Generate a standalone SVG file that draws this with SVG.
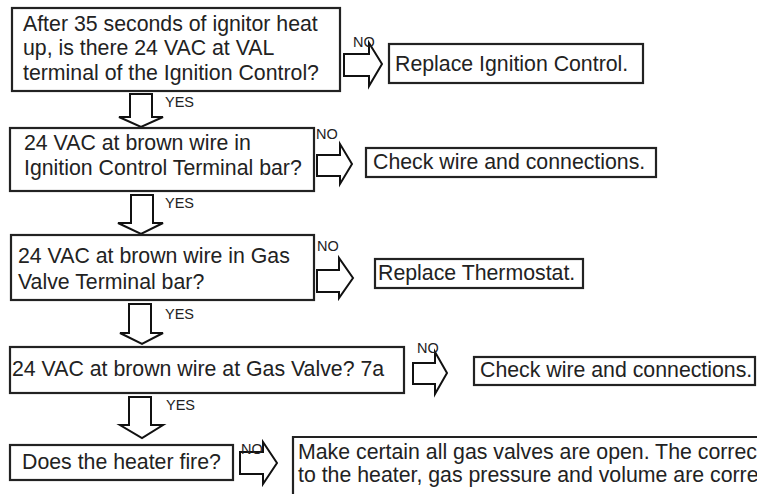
<svg xmlns="http://www.w3.org/2000/svg" width="757" height="494" viewBox="0 0 757 494">
<style>
.box{fill:#fff;stroke:#222;stroke-width:2.2}
.t{font-family:"Liberation Sans",Arial,sans-serif;font-size:21.3px;fill:#222}
.lbl{font-family:"Liberation Sans",Arial,sans-serif;font-size:14.5px;fill:#222}
.arr{fill:#fff;stroke:#111;stroke-width:2;stroke-linejoin:miter}
.ln{fill:none;stroke:#222;stroke-width:2.2}
</style>
<rect width="757" height="494" fill="#fff"/>
<g id="connectors">
  <!-- down arrows (YES) -->
  <path class="arr" d="M130,94 L152,94 L152,117 L163,117 L141,127 L119,117 L130,117 Z"/>
  <path class="arr" d="M131,195 L153,195 L153,223 L163,223 L141,234 L118,223 L131,223 Z"/>
  <path class="arr" d="M129,304 L151,304 L151,333 L163,333 L142,344 L120,333 L129,333 Z"/>
  <path class="arr" d="M129,397 L151,397 L151,425 L163,425 L142,438 L120,425 L129,425 Z"/>
  <!-- right arrows (NO) -->
  <path class="arr" d="M344,54 L369,54 L369,43 L382,64 L369,86 L369,76 L344,76 Z"/>
  <path class="arr" d="M317,155 L340,155 L340,144 L352,164 L340,184 L340,176 L317,176 Z"/>
  <path class="arr" d="M317,270 L339,270 L339,258 L353,278 L339,298 L339,292 L317,292 Z"/>
  <path class="arr" d="M413,363 L435,363 L435,352 L447,373 L435,394 L435,384 L413,384 Z"/>
  <path class="arr" d="M240,452 L263,452 L263,442 L277,463 L263,484 L263,474 L240,474 Z"/>
  <text class="lbl" x="165" y="107">YES</text>
  <text class="lbl" x="165" y="208">YES</text>
  <text class="lbl" x="165" y="319">YES</text>
  <text class="lbl" x="166" y="410">YES</text>
  <text class="lbl" x="353" y="47">NO</text>
  <text class="lbl" x="316" y="139">NO</text>
  <text class="lbl" x="317" y="251">NO</text>
  <text class="lbl" x="417" y="353">NO</text>
  <text class="lbl" x="241" y="454">NO</text>
</g>
<g id="q1">
  <rect class="box" x="12" y="8" width="328" height="83"/>
  <text class="t" x="23" y="31">After 35 seconds of ignitor heat</text>
  <text class="t" x="23" y="55">up, is there 24 VAC at VAL</text>
  <text class="t" x="23" y="80">terminal of the Ignition Control?</text>
</g>
<g id="a1">
  <rect class="box" x="389" y="44" width="254" height="39"/>
  <text class="t" x="395" y="71">Replace Ignition Control.</text>
</g>
<g id="q2">
  <rect class="box" x="10" y="128" width="304" height="63"/>
  <text class="t" x="24" y="150">24 VAC at brown wire in</text>
  <text class="t" x="24" y="175">Ignition Control Terminal bar?</text>
</g>
<g id="a2">
  <rect class="box" x="366" y="148" width="290" height="29"/>
  <text class="t" x="373" y="169">Check wire and connections.</text>
</g>
<g id="q3">
  <rect class="box" x="11" y="235" width="303" height="65"/>
  <text class="t" x="18" y="263">24 VAC at brown wire in Gas</text>
  <text class="t" x="18" y="289">Valve Terminal bar?</text>
</g>
<g id="a3">
  <rect class="box" x="375" y="259" width="208" height="29"/>
  <text class="t" x="378" y="280">Replace Thermostat.</text>
</g>
<g id="q4">
  <rect class="box" x="10" y="347" width="394" height="46"/>
  <text class="t" x="12" y="376">24 VAC at brown wire at Gas Valve? 7a</text>
</g>
<g id="a4">
  <rect class="box" x="474" y="357" width="281" height="28"/>
  <text class="t" x="480" y="377">Check wire and connections.</text>
</g>
<g id="q5">
  <rect class="box" x="10" y="445" width="223" height="35"/>
  <text class="t" x="22" y="469">Does the heater fire?</text>
</g>
<g id="a5">
  <path class="ln" d="M293,495 L293,437 L758,437"/>
  <text class="t" x="298" y="459">Make certain all gas valves are open. The correc</text>
  <text class="t" x="298" y="482">to the heater, gas pressure and volume are corre</text>
</g>
</svg>
